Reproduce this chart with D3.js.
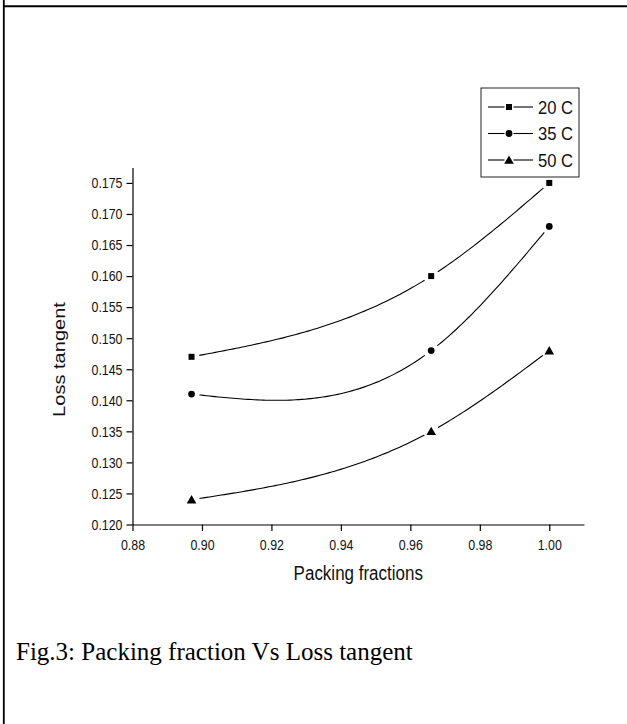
<!DOCTYPE html>
<html>
<head>
<meta charset="utf-8">
<script src="https://cdn.jsdelivr.net/npm/d3@7/dist/d3.min.js"></script>
<style>
  html, body { margin: 0; padding: 0; background: #fff; }
  svg { display: block; }
</style>
</head>
<body>
<svg id="chart" width="627" height="724"></svg>
<script>
// ---- data ----
const packing = [0.897, 0.966, 1.000];
const loss20 = [0.147, 0.160, 0.175];
const loss35 = [0.141, 0.148, 0.168];
const loss50 = [0.124, 0.135, 0.148];
const seriesNames = ["20 C", "35 C", "50 C"];
const seriesMarkers = ["square", "circle", "triangle"];

const xTicks = [0.88, 0.90, 0.92, 0.94, 0.96, 0.98, 1.00];
const xMinorTicks = [0.89, 0.91, 0.93, 0.95, 0.97, 0.99, 1.01];
const yTicks = [0.120, 0.125, 0.130, 0.135, 0.140, 0.145, 0.150, 0.155, 0.160, 0.165, 0.170, 0.175];
const yMinorTicks = [0.1225, 0.1275, 0.1325, 0.1375, 0.1425, 0.1475, 0.1525, 0.1575, 0.1625, 0.1675, 0.1725, 0.1775];

const xTitle = "Packing fractions";
const yTitle = "Loss tangent";
const caption = "Fig.3: Packing fraction Vs Loss tangent";

const series = [loss20, loss35, loss50].map((vals, i) => ({
  name: seriesNames[i],
  marker: seriesMarkers[i],
  points: packing.map((x, j) => ({ x, y: vals[j] }))
}));

// ---- layout ----
const svg = d3.select("#chart");
const sans = "'Liberation Sans', Arial, sans-serif";
const serif = "'Liberation Serif', 'Times New Roman', serif";
const stretch = 1.15; // glyphs in the figure are slightly taller than wide
const ink = "#111";

const x = d3.scaleLinear().domain([0.88, 1.01]).range([132.5, 584]);
const y = d3.scaleLinear().domain([0.12, 0.1775]).range([524.5, 167.4]);

// page frame: top rule and left rule
svg.append("line").attr("x1", 3).attr("x2", 627).attr("y1", 6.3).attr("y2", 6.3)
  .attr("stroke", "#000").attr("stroke-width", 2);
svg.append("line").attr("x1", 3.8).attr("x2", 3.8).attr("y1", 0).attr("y2", 724)
  .attr("stroke", "#000").attr("stroke-width", 1.8);

// ---- axes ----
const gx = svg.append("g").attr("transform", `translate(0,${y.range()[0]})`);
gx.call(d3.axisBottom(x).tickValues(xMinorTicks).tickSize(4).tickSizeOuter(0).tickFormat(""));
gx.call(d3.axisBottom(x).tickValues(xTicks).tickSize(6.5).tickSizeOuter(0).tickFormat(d3.format(".2f")));
gx.selectAll("text")
  .attr("y", null).attr("dy", null)
  .attr("transform", `translate(0,25.5) scale(1,${stretch})`)
  .attr("font-family", sans).attr("font-size", 12.4).attr("fill", ink);

const gy = svg.append("g").attr("transform", `translate(${x.range()[0]},0)`);
gy.call(d3.axisLeft(y).tickValues(yMinorTicks).tickSize(3.5).tickSizeOuter(0).tickFormat(""));
gy.call(d3.axisLeft(y).tickValues(yTicks).tickSize(6).tickSizeOuter(0).tickFormat(d3.format(".3f")));
gy.selectAll("text")
  .attr("x", -10).attr("dy", "0.34em")
  .attr("transform", `scale(1,${stretch})`)
  .attr("font-family", sans).attr("font-size", 12.4).attr("fill", ink);

svg.selectAll(".domain, .tick line").attr("stroke", "#000").attr("stroke-width", 1.2);

// axis titles
svg.append("text")
  .attr("transform", `translate(${(x.range()[0] + x.range()[1]) / 2},580) scale(1,${stretch})`)
  .attr("text-anchor", "middle").attr("font-family", sans).attr("font-size", 17)
  .attr("fill", ink).text(xTitle);

svg.append("text")
  .attr("transform", `translate(65,359.5) rotate(-90) scale(1.18,1)`)
  .attr("text-anchor", "middle").attr("font-family", sans).attr("font-size", 17)
  .attr("fill", ink).text(yTitle);

// ---- curves: natural cubic spline y(x) through each series ----
function naturalSpline(xs, ys) {
  const n = xs.length;
  const h = d3.range(n - 1).map(i => xs[i + 1] - xs[i]);
  const M = new Array(n).fill(0);
  if (n > 2) {
    // tridiagonal solve for interior second derivatives
    const a = [], b = [], c = [], r = [];
    for (let i = 1; i < n - 1; i++) {
      a.push(h[i - 1]); b.push(2 * (h[i - 1] + h[i])); c.push(h[i]);
      r.push(6 * ((ys[i + 1] - ys[i]) / h[i] - (ys[i] - ys[i - 1]) / h[i - 1]));
    }
    const m = b.length;
    for (let i = 1; i < m; i++) {
      const w = a[i] / b[i - 1];
      b[i] -= w * c[i - 1]; r[i] -= w * r[i - 1];
    }
    const sol = new Array(m);
    sol[m - 1] = r[m - 1] / b[m - 1];
    for (let i = m - 2; i >= 0; i--) sol[i] = (r[i] - c[i] * sol[i + 1]) / b[i];
    for (let i = 0; i < m; i++) M[i + 1] = sol[i];
  }
  return t => {
    let i = 0;
    while (i < n - 2 && t > xs[i + 1]) i++;
    const hi = h[i], A = (xs[i + 1] - t) / hi, B = (t - xs[i]) / hi;
    return A * ys[i] + B * ys[i + 1] +
      ((A * A * A - A) * M[i] + (B * B * B - B) * M[i + 1]) * hi * hi / 6;
  };
}

const line = d3.line().x(d => x(d.x)).y(d => y(d.y));

// mask leaves a small gap in the curve around each data marker
const defs = svg.append("defs");
const mask = defs.append("mask").attr("id", "gaps").attr("maskUnits", "userSpaceOnUse")
  .attr("x", 0).attr("y", 0).attr("width", 627).attr("height", 724);
mask.append("rect").attr("width", 627).attr("height", 724).attr("fill", "#fff");
series.forEach(s => s.points.forEach(p => {
  mask.append("circle").attr("cx", x(p.x)).attr("cy", y(p.y)).attr("r", 8).attr("fill", "#000");
}));

const curves = svg.append("g").attr("mask", "url(#gaps)");
series.forEach(s => {
  const xs = s.points.map(p => p.x), ys = s.points.map(p => p.y);
  const f = naturalSpline(xs, ys);
  const dense = d3.range(0, 121).map(k => {
    const t = xs[0] + (xs[xs.length - 1] - xs[0]) * k / 120;
    return { x: t, y: f(t) };
  });
  curves.append("path").datum(dense).attr("d", line)
    .attr("fill", "none").attr("stroke", "#000").attr("stroke-width", 1.1);
});

// ---- markers ----
const symbolOf = {
  square: d3.symbol().type(d3.symbolSquare).size(36),
  circle: d3.symbol().type(d3.symbolCircle).size(36),
  triangle: d3.symbol().type(d3.symbolTriangle).size(40)
};
series.forEach(s => {
  svg.append("g").selectAll("path").data(s.points).join("path")
    .attr("transform", d => `translate(${x(d.x)},${y(d.y) + (s.marker === "triangle" ? 1 : 0)})`)
    .attr("d", symbolOf[s.marker]).attr("fill", "#000");
});

// ---- legend ----
const legend = svg.append("g");
legend.append("rect").attr("x", 481).attr("y", 88).attr("width", 98).attr("height", 89)
  .attr("fill", "#fff").attr("stroke", "#222").attr("stroke-width", 1);
const rowY = [107, 133.5, 160];
series.forEach((s, i) => {
  const g = legend.append("g").attr("transform", `translate(0,${rowY[i]})`);
  g.append("line").attr("x1", 488).attr("x2", 504.5).attr("y1", 0).attr("y2", 0)
    .attr("stroke", "#000").attr("stroke-width", 1.1);
  g.append("line").attr("x1", 513.5).attr("x2", 533).attr("y1", 0).attr("y2", 0)
    .attr("stroke", "#000").attr("stroke-width", 1.1);
  g.append("path").attr("transform", `translate(509,${s.marker === "triangle" ? 1 : 0})`)
    .attr("d", symbolOf[s.marker]).attr("fill", "#000");
  g.append("text").attr("transform", `translate(538,6.7) scale(1,1.12)`)
    .attr("font-family", sans).attr("font-size", 16.6).attr("fill", ink).text(s.name);
});

// ---- caption ----
svg.append("text").attr("x", 16).attr("y", 660)
  .attr("font-family", serif).attr("font-size", 25).attr("fill", "#000").text(caption);
</script>
</body>
</html>
